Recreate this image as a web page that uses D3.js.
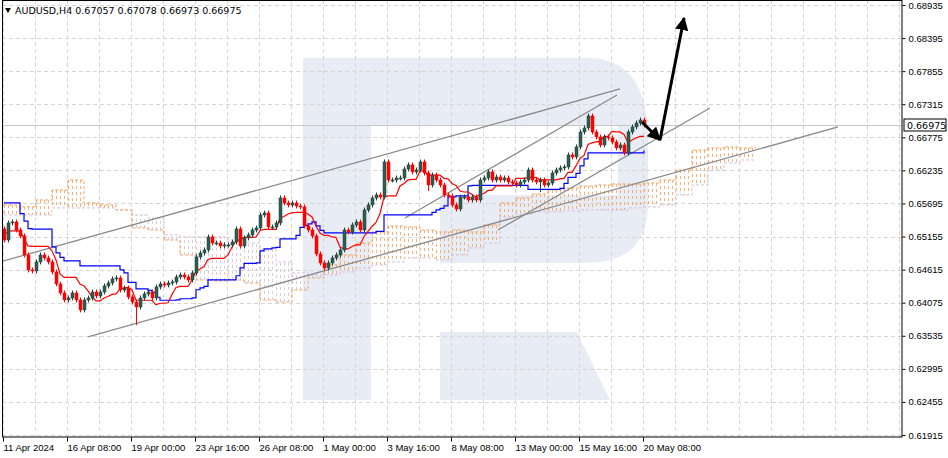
<!DOCTYPE html>
<html><head><meta charset="utf-8">
<script src="https://cdn.jsdelivr.net/npm/d3@7"></script>
<style>body{margin:0;background:#fff}svg{display:block;font-family:"DejaVu Sans",sans-serif}</style>
</head><body><svg id="c" width="948" height="458"></svg>
<script>
const closes=[0.65099,0.65377,0.65393,0.65262,0.65165,0.64854,0.64610,0.64593,0.64740,0.64854,
0.64805,0.64740,0.64577,0.64381,0.64234,0.64120,0.64152,0.64234,0.64120,0.63957,
0.64120,0.64152,0.64250,0.64185,0.64250,0.64348,0.64397,0.64463,0.64479,0.64283,
0.64315,0.64169,0.64087,0.64005,0.64152,0.64218,0.64250,0.64152,0.64332,0.64381,
0.64364,0.64397,0.64413,0.64495,0.64528,0.64495,0.64446,0.64560,0.64822,0.64887,
0.64936,0.65148,0.65050,0.65050,0.65001,0.65018,0.65018,0.65066,0.65279,0.65001,
0.65132,0.65181,0.65262,0.65295,0.65507,0.65540,0.65311,0.65311,0.65377,0.65785,
0.65703,0.65671,0.65703,0.65654,0.65638,0.65328,0.65262,0.65165,0.64871,0.64724,
0.64642,0.64724,0.64805,0.64854,0.64936,0.65262,0.65230,0.65344,0.65393,0.65262,
0.65589,0.65671,0.65785,0.65834,0.65801,0.66373,0.66078,0.66078,0.66111,0.66111,
0.66258,0.66324,0.66210,0.66242,0.66373,0.66193,0.65997,0.66160,0.66078,0.65997,
0.65834,0.65818,0.65671,0.65605,0.65801,0.65801,0.65752,0.65801,0.65752,0.66078,
0.66111,0.66210,0.66078,0.66127,0.66078,0.66111,0.66046,0.66029,0.65997,0.66046,
0.66078,0.66242,0.66078,0.66046,0.66078,0.65997,0.66029,0.66193,0.66242,0.66275,
0.66291,0.66487,0.66455,0.66618,0.66862,0.66928,0.67124,0.66862,0.66781,0.66650,
0.66781,0.66765,0.66699,0.66602,0.66650,0.66520,0.66862,0.66944,0.67009,0.67058,0.66975];
const firstOpen=0.6528;
const wickLow=[{i:33,low:0.6371},{i:134,low:0.6588},{i:106,low:0.6590}];
// highs of bars before the visible window (used only by Ichimoku look-back)
const priorHighs=[{i:-22,h:0.6635},{i:-14,h:0.6600}];
// Ichimoku cloud spans, one value per 4 bars
const spanA=[0.65671,0.65639,0.65752,0.65915,0.66078,0.65703,0.65671,0.65589,0.65295,0.65262,
0.65099,0.64854,0.64446,0.64430,0.64446,0.64397,0.64120,0.64087,0.64283,0.64479,
0.64691,0.64854,0.65050,0.65230,0.65328,0.65311,0.65262,0.65230,0.65262,0.65230,
0.65344,0.65703,0.65785,0.65850,0.65915,0.65948,0.65981,0.65997,0.66013,0.66013,
0.66029,0.66078,0.66242,0.66568,0.66601,0.66617,0.66601];
const spanB=[0.65507,0.65507,0.65507,0.65622,0.65622,0.65622,0.65622,0.65589,0.65507,0.65458,
0.65181,0.65148,0.65148,0.65148,0.65099,0.65050,0.64936,0.64740,0.64561,0.64528,
0.64528,0.64577,0.64642,0.64691,0.64740,0.64805,0.64805,0.64773,0.64854,0.64969,
0.65050,0.65475,0.65524,0.65556,0.65556,0.65573,0.65589,0.65589,0.65589,0.65622,
0.65638,0.65671,0.65834,0.65997,0.66242,0.66356,0.66405];
const priceTicks=[0.68935,0.68395,0.67855,0.67315,0.66775,0.66235,0.65695,0.65155,0.64615,0.64075,0.63535,0.62995,0.62455,0.61915];
const dateTickBars=[0,16,32,48,64,80,96,112,128,144,160];
const dateLabels=["11 Apr 2024","16 Apr 08:00","19 Apr 00:00","23 Apr 16:00","26 Apr 08:00","1 May 00:00","3 May 16:00","8 May 08:00","13 May 00:00","15 May 16:00","20 May 08:00"];
const trendLines=[[-1,0.64740,154,0.67564],[21,0.63516,208.5,0.66944],[100.25,0.65458,153.25,0.67466],[123.5,0.65262,176.5,0.67254]];
const arrowPts=[[159.5,0.67025],[164,0.66732],[170,0.68723]];
const lastPrice=0.66975;
const title="AUDUSD,H4  0.67057 0.67078 0.66973 0.66975";

const svg=d3.select("#c");
const W=902,H=437;
const x=d3.scaleLinear().domain([0,1]).range([4,8]);
const y=d3.scaleLinear().domain([0.61915,0.68935]).range([435,5]);

const bars=closes.map((c,i)=>{const o=i?closes[i-1]:firstOpen;let h=Math.max(o,c)+0.0004,l=Math.min(o,c)-0.0004;
 const w=wickLow.find(d=>d.i===i);if(w)l=w.low;return{i,o,c,h,l};});
function mid(i,n){const s=bars.slice(Math.max(0,i-n+1),i+1);let hi=d3.max(s,d=>d.h);
 priorHighs.forEach(p=>{if(p.i>i-n)hi=Math.max(hi,p.h);});return (hi+d3.min(s,d=>d.l))/2;}
const tenkan=bars.map((d,i)=>mid(i,9)), kijun=bars.map((d,i)=>mid(i,26));

svg.append("defs").append("clipPath").attr("id","pc").append("rect").attr("x",2).attr("y",0).attr("width",W-2).attr("height",H);
const g=svg.append("g").attr("clip-path","url(#pc)");
g.append("path").attr("fill","#e8edf5").attr("d","M303,58H588Q648,58 648,140V205Q648,263 585,263H440V195H618V125H371V400H303Z");
g.append("path").attr("fill","#e8edf5").attr("d","M440,332H577L610,400H440Z");
priceTicks.forEach(p=>{g.append("line").attr("x1",2).attr("x2",W).attr("y1",Math.round(y(p))+0.5).attr("y2",Math.round(y(p))+0.5).attr("stroke","#d6d6d6").attr("stroke-dasharray","4,3");});
for(let b=0;b<=224;b+=8){g.append("line").attr("x1",Math.round(x(b))-0.5).attr("x2",Math.round(x(b))-0.5).attr("y1",0).attr("y2",H).attr("stroke","#d6d6d6").attr("stroke-dasharray","4,3");}
g.append("line").attr("x1",2).attr("x2",W).attr("y1",Math.round(y(lastPrice))+0.5).attr("y2",Math.round(y(lastPrice))+0.5).attr("stroke","#c8c8c8");
const nCloud=spanA.length*4;
for(let i=0;i<nCloud;i++){const a=spanA[Math.floor(i/4)],b=spanB[Math.floor(i/4)];
 g.append("line").attr("x1",Math.round(x(i))+0.5).attr("x2",Math.round(x(i))+0.5).attr("y1",y(a)).attr("y2",y(b))
  .attr("stroke",a>=b?"#f4a460":"#d8bfd8").attr("stroke-opacity",0.85).attr("stroke-dasharray","3,3");}
const stepLine=d3.line().x((d,j)=>x(j*4)).y(d=>y(d)).curve(d3.curveStepAfter);
const ext=arr=>arr.concat([arr[arr.length-1]]);
g.append("path").attr("d",stepLine(ext(spanB))).attr("fill","none").attr("stroke","#d8bfd8").attr("stroke-dasharray","3,2");
g.append("path").attr("d",stepLine(ext(spanA))).attr("fill","none").attr("stroke","#f4a460").attr("stroke-dasharray","3,2");
trendLines.forEach(t=>{g.append("line").attr("x1",x(t[0])).attr("y1",y(t[1])).attr("x2",x(t[2])).attr("y2",y(t[3])).attr("stroke","#8a8a8a").attr("stroke-width",1.3);});
const ln=d3.line().x((d,i)=>x(i)).y(d=>y(d)).curve(d3.curveStepAfter);
g.append("path").attr("d",ln(kijun)).attr("fill","none").attr("stroke","#0000ff").attr("stroke-width",1.2);
g.append("path").attr("d",d3.line().x((d,i)=>x(i)).y(d=>y(d))(tenkan)).attr("fill","none").attr("stroke","#ff0000").attr("stroke-width",1.2);
bars.forEach(d=>{const up=d.c>=d.o,cx=Math.round(x(d.i))+0.5,col=up?"#2e5e52":"#ff0000";
 g.append("line").attr("x1",cx).attr("x2",cx).attr("y1",y(d.h)).attr("y2",y(d.l)).attr("stroke",up?"#1f3f38":"#ff0000");
 const t=y(Math.max(d.o,d.c)),bt=y(Math.min(d.o,d.c));
 g.append("rect").attr("x",cx-1.5).attr("y",t).attr("width",3).attr("height",Math.max(1,bt-t)).attr("fill",col).attr("stroke",up?"#1f3f38":"#ff0000").attr("stroke-width",0.5);});
const defs=svg.select("defs");
defs.append("marker").attr("id","ah").attr("viewBox","0 0 10 10").attr("refX",9).attr("refY",5).attr("markerWidth",4.5).attr("markerHeight",4.5).attr("orient","auto")
 .append("path").attr("d","M0,0L10,5L0,10Z").attr("fill","#000");
for(let k=0;k<2;k++){g.append("line").attr("x1",x(arrowPts[k][0])).attr("y1",y(arrowPts[k][1])).attr("x2",x(arrowPts[k+1][0])).attr("y2",y(arrowPts[k+1][1]))
 .attr("stroke","#000").attr("stroke-width",3).attr("marker-end","url(#ah)");}
svg.append("rect").attr("x",2.5).attr("y",0.5).attr("width",W-2.5).attr("height",H-0.5).attr("fill","none").attr("stroke","#000");
const ya=svg.append("g").attr("transform",`translate(${W+0.5},0)`).call(d3.axisRight(y).tickValues(priceTicks).tickFormat(d3.format(".5f")).tickSize(3).tickPadding(3));
ya.select(".domain").remove();
ya.selectAll("text").attr("font-size",9.5).attr("fill","#000");
const xa=svg.append("g").attr("transform",`translate(0,${H+0.5})`).call(d3.axisBottom(x).tickValues(dateTickBars).tickFormat((d,i)=>dateLabels[i]).tickSize(4).tickPadding(3));
xa.select(".domain").remove();
xa.selectAll("text").attr("font-size",9.5).attr("text-anchor","start").attr("dx",-1).attr("fill","#000");
xa.selectAll(".tick line").attr("transform","translate(-1,0)");
const lp=svg.append("g").attr("transform",`translate(${W+1},${Math.round(y(lastPrice))})`);
lp.append("rect").attr("x",1).attr("y",-6).attr("width",42).attr("height",12).attr("fill","#fff").attr("stroke","#000");
lp.append("text").attr("x",4).attr("y",4).attr("font-size",9.5).text(lastPrice.toFixed(5));
svg.append("path").attr("d","M5,8L11,8L8,13Z").attr("fill","#000");
svg.append("text").attr("x",15).attr("y",14).attr("font-size",9.5).text(title);
</script></body></html>
